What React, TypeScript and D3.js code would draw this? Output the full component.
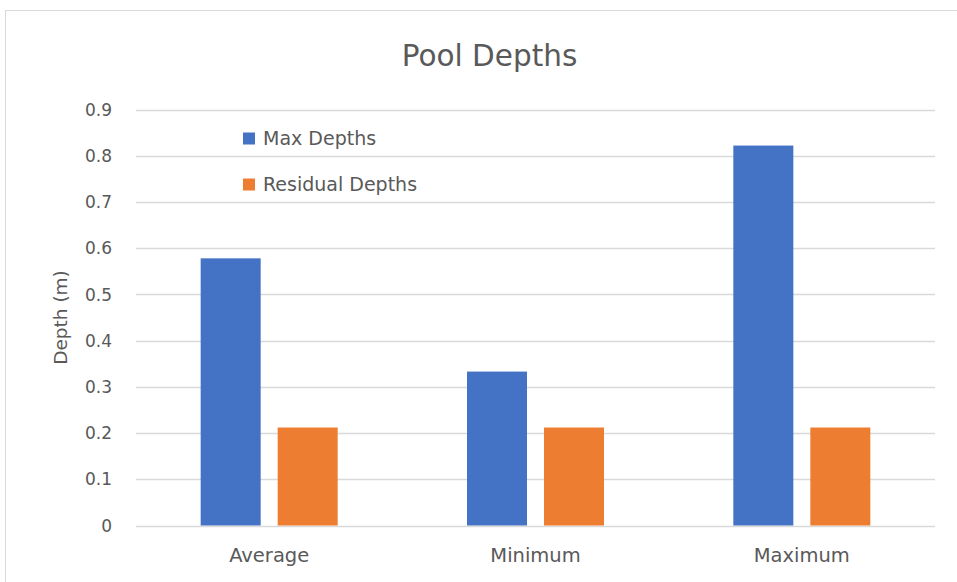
import React from "react";
import * as d3 from "d3";

const categories = ["Average", "Minimum", "Maximum"];
const seriesNames = ["Max Depths", "Residual Depths"];
const maxDepths = [0.578, 0.333, 0.822];
const residualDepths = [0.212, 0.212, 0.212];
const yTicks = [0, 0.1, 0.2, 0.3, 0.4, 0.5, 0.6, 0.7, 0.8, 0.9];
const colors = ["#4472C4", "#ED7D31"];

const W = 957;
const H = 582;
const left = 136;
const right = 935;
const top = 109.5;
const bottom = 525.5;
const font = "'DejaVu Sans', sans-serif";

export default function App() {
  const x = d3.scaleBand<string>().domain(categories).range([left, right]).paddingInner(0).paddingOuter(0);
  const y = d3.scaleLinear().domain([0, 0.9]).range([bottom, top]);
  const barW = 60;
  const gap = 17;
  const series = [maxDepths, residualDepths];
  return (
    <svg width={W} height={H} style={{ position: "absolute", left: 0, top: 0 }}>
      <rect x={0} y={0} width={W} height={H} fill="#fff" />
      <rect x={5.5} y={10.5} width={W + 10} height={H + 10} fill="none" stroke="#d9d9d9" strokeWidth={1} />
      <text x={489.5} y={66} textAnchor="middle" fontFamily={font} fontSize={29.5} fill="#595959">Pool Depths</text>
      {yTicks.map((t) => (
        <g key={t}>
          <line x1={left} x2={right} y1={Math.round(y(t)) + 0.5} y2={Math.round(y(t)) + 0.5} stroke="#d9d9d9" strokeWidth={1.5} />
          <text x={112} y={y(t)} dy="0.36em" textAnchor="end" fontFamily={font} fontSize={17} fill="#595959">{String(t)}</text>
        </g>
      ))}
      <text transform={`translate(67,${(top + bottom) / 2}) rotate(-90)`} textAnchor="middle" fontFamily={font} fontSize={18.5} fill="#595959">Depth (m)</text>
      {categories.map((c, i) => {
        const cx = (x(c) as number) + x.bandwidth() / 2;
        return (
          <g key={c}>
            {series.map((s, k) => {
              const bx = k === 0 ? cx - gap / 2 - barW : cx + gap / 2;
              return <rect key={k} x={bx} y={y(s[i])} width={barW} height={y(0) - y(s[i])} fill={colors[k]} />;
            })}
            <text x={cx} y={555} dy="0.36em" textAnchor="middle" fontFamily={font} fontSize={19.5} fill="#595959">{c}</text>
          </g>
        );
      })}
      {seriesNames.map((n, k) => (
        <g key={n} transform={`translate(243,${138.5 + k * 46})`}>
          <rect x={0} y={-6} width={12} height={12} fill={colors[k]} />
          <text x={20} y={0} dy="0.36em" fontFamily={font} fontSize={19} fill="#595959">{n}</text>
        </g>
      ))}
    </svg>
  );
}
